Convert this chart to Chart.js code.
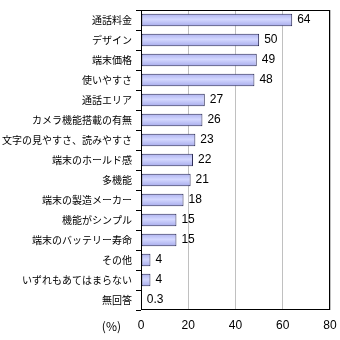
<!DOCTYPE html>
<html>
<head>
<meta charset="utf-8">
<script src="https://cdn.jsdelivr.net/npm/chart.js@4"></script>
<style>
  html, body { margin: 0; padding: 0; background: #fff; }
  #wrap { width: 340px; height: 340px; }
</style>
</head>
<body>
<div id="wrap"><canvas id="c" width="340" height="340"></canvas></div>
<script>
const categories = [
  '通話料金', 'デザイン', '端末価格', '使いやすさ', '通話エリア',
  'カメラ機能搭載の有無', '文字の見やすさ、読みやすさ', '端末のホールド感',
  '多機能', '端末の製造メーカー', '機能がシンプル', '端末のバッテリー寿命',
  'その他', 'いずれもあてはまらない', '無回答'
];
const values = [64, 50, 49, 48, 27, 26, 23, 22, 21, 18, 15, 15, 4, 4, 0.3];
const xTicks = [0, 20, 40, 60, 80];
const unitLabel = '(%)';

const jpFont = '"Noto Sans CJK JP", sans-serif';
const numFont = '"Liberation Sans", Arial, sans-serif';

// Vertical gradient per bar, centred on its category row
function barFill(ctx) {
  const chart = ctx.chart;
  const y = chart.scales.y;
  const flat = '#c4c8f8';
  if (!y || ctx.dataIndex === undefined) return flat;
  const cy = y.getPixelForValue(ctx.dataIndex);
  if (!Number.isFinite(cy)) return flat;
  const g = chart.ctx.createLinearGradient(0, cy - 6, 0, cy + 6);
  g.addColorStop(0, '#b0b4f0');
  g.addColorStop(0.45, '#d4d8ff');
  g.addColorStop(1, '#a8acec');
  return g;
}

const frameAndLabels = {
  id: 'frameAndLabels',
  afterDatasetsDraw(chart) {
    const { ctx, chartArea: a } = chart;
    ctx.save();
    ctx.strokeStyle = '#000';
    ctx.lineWidth = 1;
    ctx.strokeRect(Math.round(a.left) + 0.5, Math.round(a.top) + 0.5,
                   Math.round(a.right - a.left) - 1, Math.round(a.bottom - a.top) - 1);

    ctx.fillStyle = '#000';
    ctx.font = '12px ' + numFont;
    ctx.textBaseline = 'middle';
    ctx.textAlign = 'left';
    const meta = chart.getDatasetMeta(0);
    meta.data.forEach((bar, i) => {
      ctx.fillText(String(values[i]), bar.x + 5, bar.y);
    });

    ctx.font = '12px ' + jpFont;
    ctx.textAlign = 'right';
    const xs = chart.scales.x;
    ctx.fillText(unitLabel, a.left - 20, xs.top + 16);
    ctx.restore();
  }
};

new Chart(document.getElementById('c'), {
  type: 'bar',
  data: {
    labels: categories,
    datasets: [{
      data: values,
      backgroundColor: barFill,
      borderColor: '#2a2a55',
      borderWidth: 1,
      borderSkipped: false,
      barPercentage: 0.62,
      categoryPercentage: 1
    }]
  },
  options: {
    indexAxis: 'y',
    responsive: false,
    animation: false,
    devicePixelRatio: 1,
    layout: { padding: { top: 8, right: 10, bottom: 0, left: 0 } },
    plugins: { legend: { display: false }, tooltip: { enabled: false } },
    scales: {
      x: {
        min: 0, max: 80,
        afterBuildTicks(scale) { scale.ticks = xTicks.map(v => ({ value: v })); },
        afterFit(scale) { scale.height = 30; scale.paddingRight = 0; scale.paddingLeft = 0; },
        grid: { color: '#c0c0c0', drawTicks: false },
        border: { display: false },
        ticks: { color: '#000', padding: 8, font: { family: numFont, size: 12 } }
      },
      y: {
        afterFit(scale) { scale.width = 141; },
        grid: { drawOnChartArea: false, color: '#000', tickLength: 5, offset: true },
        border: { display: false },
        ticks: { color: '#000', padding: 4, font: { family: jpFont, size: 10 }, autoSkip: false }
      }
    }
  },
  plugins: [frameAndLabels]
});
</script>
</body>
</html>
